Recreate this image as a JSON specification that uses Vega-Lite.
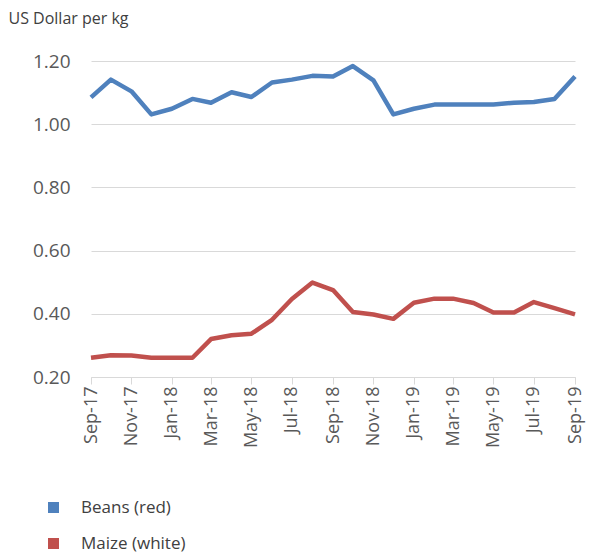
{
  "$schema": "https://vega.github.io/schema/vega-lite/v6.json",
  "width": 484,
  "height": 316,
  "autosize": {"type": "none"},
  "padding": {"left": 91, "top": 61, "right": 23, "bottom": 176},
  "background": "white",
  "config": {"view": {"stroke": null}, "font": "Open Sans"},
  "data": {
    "values": [
      {"date": "2017-09-01", "series": "Beans (red)", "price": 1.085},
      {"date": "2017-10-01", "series": "Beans (red)", "price": 1.141},
      {"date": "2017-11-01", "series": "Beans (red)", "price": 1.104},
      {"date": "2017-12-01", "series": "Beans (red)", "price": 1.031},
      {"date": "2018-01-01", "series": "Beans (red)", "price": 1.049},
      {"date": "2018-02-01", "series": "Beans (red)", "price": 1.080},
      {"date": "2018-03-01", "series": "Beans (red)", "price": 1.068},
      {"date": "2018-04-01", "series": "Beans (red)", "price": 1.101},
      {"date": "2018-05-01", "series": "Beans (red)", "price": 1.086},
      {"date": "2018-06-01", "series": "Beans (red)", "price": 1.132},
      {"date": "2018-07-01", "series": "Beans (red)", "price": 1.141},
      {"date": "2018-08-01", "series": "Beans (red)", "price": 1.153},
      {"date": "2018-09-01", "series": "Beans (red)", "price": 1.151},
      {"date": "2018-10-01", "series": "Beans (red)", "price": 1.184},
      {"date": "2018-11-01", "series": "Beans (red)", "price": 1.139},
      {"date": "2018-12-01", "series": "Beans (red)", "price": 1.031},
      {"date": "2019-01-01", "series": "Beans (red)", "price": 1.049},
      {"date": "2019-02-01", "series": "Beans (red)", "price": 1.062},
      {"date": "2019-03-01", "series": "Beans (red)", "price": 1.062},
      {"date": "2019-04-01", "series": "Beans (red)", "price": 1.062},
      {"date": "2019-05-01", "series": "Beans (red)", "price": 1.062},
      {"date": "2019-06-01", "series": "Beans (red)", "price": 1.068},
      {"date": "2019-07-01", "series": "Beans (red)", "price": 1.070},
      {"date": "2019-08-01", "series": "Beans (red)", "price": 1.080},
      {"date": "2019-09-01", "series": "Beans (red)", "price": 1.151},
      {"date": "2017-09-01", "series": "Maize (white)", "price": 0.261},
      {"date": "2017-10-01", "series": "Maize (white)", "price": 0.269},
      {"date": "2017-11-01", "series": "Maize (white)", "price": 0.268},
      {"date": "2017-12-01", "series": "Maize (white)", "price": 0.261},
      {"date": "2018-01-01", "series": "Maize (white)", "price": 0.261},
      {"date": "2018-02-01", "series": "Maize (white)", "price": 0.261},
      {"date": "2018-03-01", "series": "Maize (white)", "price": 0.320},
      {"date": "2018-04-01", "series": "Maize (white)", "price": 0.332},
      {"date": "2018-05-01", "series": "Maize (white)", "price": 0.337},
      {"date": "2018-06-01", "series": "Maize (white)", "price": 0.381},
      {"date": "2018-07-01", "series": "Maize (white)", "price": 0.447},
      {"date": "2018-08-01", "series": "Maize (white)", "price": 0.499},
      {"date": "2018-09-01", "series": "Maize (white)", "price": 0.475},
      {"date": "2018-10-01", "series": "Maize (white)", "price": 0.406},
      {"date": "2018-11-01", "series": "Maize (white)", "price": 0.398},
      {"date": "2018-12-01", "series": "Maize (white)", "price": 0.384},
      {"date": "2019-01-01", "series": "Maize (white)", "price": 0.435},
      {"date": "2019-02-01", "series": "Maize (white)", "price": 0.448},
      {"date": "2019-03-01", "series": "Maize (white)", "price": 0.448},
      {"date": "2019-04-01", "series": "Maize (white)", "price": 0.434},
      {"date": "2019-05-01", "series": "Maize (white)", "price": 0.404},
      {"date": "2019-06-01", "series": "Maize (white)", "price": 0.404},
      {"date": "2019-07-01", "series": "Maize (white)", "price": 0.437},
      {"date": "2019-08-01", "series": "Maize (white)", "price": 0.418},
      {"date": "2019-09-01", "series": "Maize (white)", "price": 0.398}
    ]
  },
  "mark": {"type": "line", "strokeWidth": 4.5, "strokeJoin": "round"},
  "encoding": {
    "x": {
      "field": "date",
      "type": "temporal",
      "scale": {
        "type": "utc",
        "domain": [
          {"year": 2017, "month": 9, "date": 1, "utc": true},
          {"year": 2019, "month": 9, "date": 1, "utc": true}
        ]
      },
      "axis": {
        "title": null,
        "format": "%b-%y",
        "values": [
          {"year": 2017, "month": 9, "date": 1, "utc": true},
          {"year": 2017, "month": 11, "date": 1, "utc": true},
          {"year": 2018, "month": 1, "date": 1, "utc": true},
          {"year": 2018, "month": 3, "date": 1, "utc": true},
          {"year": 2018, "month": 5, "date": 1, "utc": true},
          {"year": 2018, "month": 7, "date": 1, "utc": true},
          {"year": 2018, "month": 9, "date": 1, "utc": true},
          {"year": 2018, "month": 11, "date": 1, "utc": true},
          {"year": 2019, "month": 1, "date": 1, "utc": true},
          {"year": 2019, "month": 3, "date": 1, "utc": true},
          {"year": 2019, "month": 5, "date": 1, "utc": true},
          {"year": 2019, "month": 7, "date": 1, "utc": true},
          {"year": 2019, "month": 9, "date": 1, "utc": true}
        ],
        "labelAngle": -90,
        "grid": false,
        "domainColor": "#d9d9d9",
        "tickColor": "#d9d9d9",
        "tickSize": 7,
        "labelFontSize": 18,
        "labelColor": "#595959",
        "labelPadding": 2,
        "labelFlush": false,
        "labelOverlap": false
      }
    },
    "y": {
      "field": "price",
      "type": "quantitative",
      "scale": {"domain": [0.2, 1.2], "nice": false, "zero": false},
      "axis": {
        "values": [0.2, 0.4, 0.6, 0.8, 1.0, 1.2],
        "format": ".2f",
        "title": "US Dollar per kg",
        "titleAngle": 0,
        "titleX": -83,
        "titleY": -43,
        "titleAlign": "left",
        "titleBaseline": "middle",
        "titleFontWeight": "normal",
        "titleFontSize": 16,
        "titleColor": "#404040",
        "domain": false,
        "ticks": false,
        "labelPadding": 21,
        "labelFontSize": 19,
        "labelColor": "#595959",
        "gridColor": "#d9d9d9"
      }
    },
    "color": {
      "field": "series",
      "type": "nominal",
      "scale": {"domain": ["Beans (red)", "Maize (white)"], "range": ["#4f81bd", "#c0504d"]},
      "legend": {
        "title": null,
        "orient": "none",
        "legendX": -46,
        "legendY": 438,
        "direction": "vertical",
        "symbolType": "square",
        "symbolSize": 121,
        "symbolStrokeWidth": 0,
        "labelFontSize": 17,
        "labelColor": "#404040",
        "labelOffset": 19,
        "rowPadding": 18,
        "encode": {"symbols": {"update": {"fill": {"scale": "color", "field": "value"}, "strokeWidth": {"value": 0}}}}
      }
    }
  }
}
